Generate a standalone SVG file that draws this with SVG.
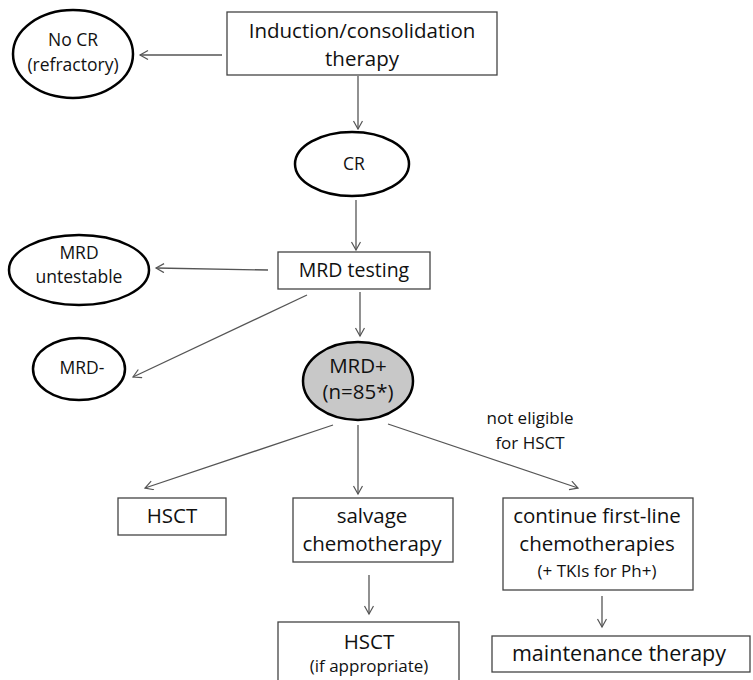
<svg xmlns="http://www.w3.org/2000/svg" width="753" height="680" viewBox="0 0 753 680">
<defs>
<marker id="ah" markerWidth="12" markerHeight="12" refX="9" refY="5" orient="auto" markerUnits="userSpaceOnUse">
<path d="M1,0.5 L9,5 L1,9.5" fill="none" stroke="#555" stroke-width="1.2"/>
</marker>
</defs>
<style>
.box{fill:#fff;stroke:#444;stroke-width:1.3}
.ell{fill:#fff;stroke:#000;stroke-width:2.5}
.gray{fill:#c8c8c8}
.c{stroke:#555;stroke-width:1.3;fill:none;marker-end:url(#ah)}
text{font-family:"Open Sans","Liberation Sans",sans-serif;fill:#111;text-anchor:middle}
.big{font-size:20.5px}
.mid{font-size:17.5px}
.sm{font-size:17px}
</style>
<rect width="753" height="680" fill="#fff"/>
<g id="connectors">
<line class="c" x1="222" y1="55" x2="140" y2="55"/>
<line class="c" x1="358" y1="76" x2="358" y2="129"/>
<line class="c" x1="356" y1="200" x2="356" y2="250"/>
<line class="c" x1="268" y1="270" x2="156" y2="268"/>
<line class="c" x1="307" y1="295" x2="133" y2="377"/>
<line class="c" x1="360" y1="292" x2="360" y2="336"/>
<line class="c" x1="333" y1="425" x2="145" y2="488"/>
<line class="c" x1="358" y1="425" x2="358" y2="494"/>
<line class="c" x1="388" y1="424" x2="578" y2="488"/>
<line class="c" x1="369" y1="575" x2="369" y2="614"/>
<line class="c" x1="602" y1="596" x2="602" y2="627"/>
</g>
<g id="induction">
<rect class="box" x="227" y="12" width="270" height="63"/>
<text class="big" x="362" y="38">Induction/consolidation</text>
<text class="big" x="362" y="66">therapy</text>
</g>
<g id="nocr">
<ellipse class="ell" cx="73" cy="54" rx="60" ry="44"/>
<text class="mid" x="73" y="46">No CR</text>
<text class="mid" x="73" y="71">(refractory)</text>
</g>
<g id="cr">
<ellipse class="ell" cx="352" cy="164" rx="57" ry="32"/>
<text class="mid" x="354" y="170">CR</text>
</g>
<g id="mrdtesting">
<rect class="box" x="278" y="252" width="152" height="37"/>
<text class="big" x="354" y="277" style="font-size:19.5px">MRD testing</text>
</g>
<g id="untestable">
<ellipse class="ell" cx="79" cy="270" rx="70" ry="35"/>
<text class="mid" x="79" y="259">MRD</text>
<text class="mid" x="79" y="283">untestable</text>
</g>
<g id="mrdneg">
<ellipse class="ell" cx="79" cy="369" rx="46" ry="31"/>
<text class="mid" x="82" y="374">MRD-</text>
</g>
<g id="mrdpos">
<ellipse class="ell gray" cx="358" cy="381" rx="55" ry="39"/>
<text class="big" x="358" y="373">MRD+</text>
<text class="big" x="358" y="399">(n=85*)</text>
</g>
<g id="label-noteligible">
<text class="sm" x="530" y="424">not eligible</text>
<text class="sm" x="530" y="449">for HSCT</text>
</g>
<g id="hsct1">
<rect class="box" x="118" y="498" width="108" height="37"/>
<text class="big" x="172" y="523">HSCT</text>
</g>
<g id="salvage">
<rect class="box" x="293" y="498" width="160" height="64"/>
<text class="big" x="372" y="523">salvage</text>
<text class="big" x="372" y="551">chemotherapy</text>
</g>
<g id="continue">
<rect class="box" x="503" y="498" width="190" height="92"/>
<text class="big" x="597" y="523">continue first-line</text>
<text class="big" x="597" y="551">chemotherapies</text>
<text class="sm" x="597" y="577">(+ TKIs for Ph+)</text>
</g>
<g id="hsct2">
<rect class="box" x="278" y="622" width="181" height="70"/>
<text class="big" x="369" y="649">HSCT</text>
<text class="sm" x="369" y="672">(if appropriate)</text>
</g>
<g id="maintenance">
<rect class="box" x="492" y="636" width="258" height="36"/>
<text class="big" x="619" y="661" style="font-size:21.5px">maintenance therapy</text>
</g>
</svg>
